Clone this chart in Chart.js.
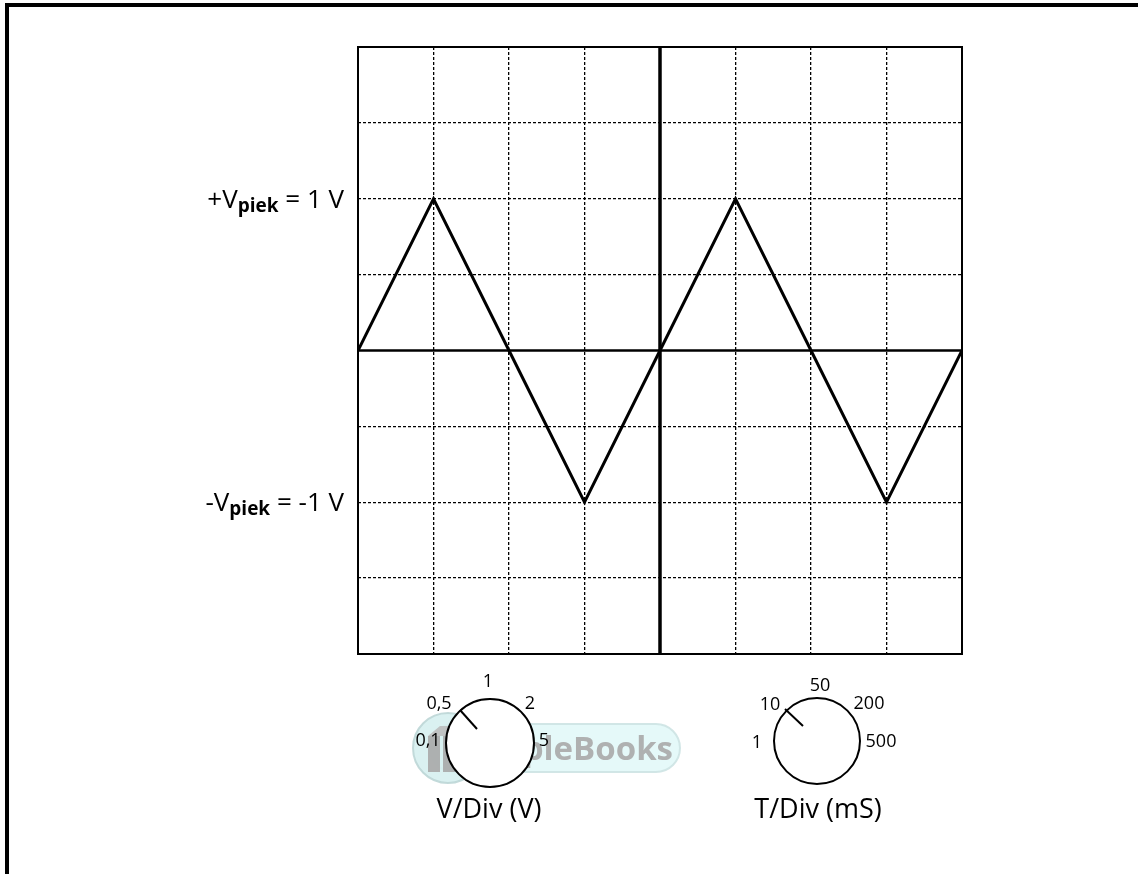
<!DOCTYPE html>
<html>
<head>
<meta charset="utf-8">
<script src="https://cdn.jsdelivr.net/npm/chart.js@4/dist/chart.umd.min.js"></script>
<style>
html,body{margin:0;padding:0;background:#fff;}
#wrap{position:relative;width:1138px;height:874px;}
</style>
</head>
<body>
<div id="wrap"><canvas id="c" width="1138" height="874"></canvas></div>
<script>
// ---- data ----
const timeDivs = [0, 1, 2, 3, 4, 5, 6, 7, 8];
const voltageDivs = [0, 2, 0, -2, 0, 2, 0, -2, 0];
const xAxisLine = [[0, 0], [8, 0]];
const yAxisLine = [[4, -4], [4, 4]];
const peakLabels = [
  {value: 2, pre: '+V', sub: 'piek', post: ' = 1 V'},
  {value: -2, pre: '-V', sub: 'piek', post: ' = -1 V'}
];
const voltKnobLabels = ['1', '0,5', '2', '0,1', '5'];
const voltKnobTitle = 'V/Div (V)';
const timeKnobLabels = ['50', '10', '200', '1', '500'];
const timeKnobTitle = 'T/Div (mS)';
const watermarkText = 'mpleBooks';

const FONT = '"Open Sans", "Noto Sans", sans-serif';

const transparentEdges = (edges) => (ctx) =>
  (ctx.tick && edges.includes(ctx.tick.value)) ? 'rgba(0,0,0,0)' : '#000';

const decor = {
  id: 'decor',
  beforeDraw(chart) {
    const ctx = chart.ctx;
    ctx.save();
    ctx.fillStyle = '#fff';
    ctx.fillRect(0, 0, chart.width, chart.height);
    ctx.restore();
  },
  afterDraw(chart) {
    const ctx = chart.ctx;
    const a = chart.chartArea;
    const ys = chart.scales.y;
    ctx.save();
    // page frame
    ctx.fillStyle = '#000';
    ctx.fillRect(5, 3, chart.width - 5, 4);
    ctx.fillRect(5, 3, 4, chart.height - 3);

    // plot frame
    ctx.strokeStyle = '#000';
    ctx.lineWidth = 2;
    ctx.strokeRect(a.left, a.top, a.right - a.left, a.bottom - a.top);

    // peak labels
    const MAIN = '26px ' + FONT, SUB = 'bold 19px ' + FONT;
    peakLabels.forEach(l => {
      const y = ys.getPixelForValue(l.value);
      ctx.font = MAIN;
      const w1 = ctx.measureText(l.pre).width;
      const w3 = ctx.measureText(l.post).width;
      ctx.font = SUB;
      const w2 = ctx.measureText(l.sub).width;
      const right = a.left - 14;
      let x = right - (w1 + w2 + w3);
      ctx.fillStyle = '#000';
      ctx.textBaseline = 'alphabetic';
      ctx.textAlign = 'left';
      ctx.font = MAIN;
      ctx.fillText(l.pre, x, y + 9);
      ctx.font = SUB;
      ctx.fillText(l.sub, x + w1, y + 13);
      ctx.font = MAIN;
      ctx.fillText(l.post, x + w1 + w2, y + 9);
    });

    // watermark
    ctx.save();
    ctx.globalAlpha = 0.9;
    ctx.fillStyle = '#e2f8f8';
    ctx.strokeStyle = '#cde3e3';
    ctx.lineWidth = 2;
    ctx.beginPath();
    if (ctx.roundRect) ctx.roundRect(430, 724, 250, 48, 24); else ctx.rect(430, 724, 250, 48);
    ctx.fill(); ctx.stroke();
    ctx.beginPath();
    ctx.arc(448, 748, 35, 0, Math.PI * 2);
    ctx.fillStyle = '#d6f0f0';
    ctx.fill();
    ctx.strokeStyle = '#bcd6d6';
    ctx.stroke();
    // book icon
    ctx.fillStyle = '#a9a9a9';
    ctx.fillRect(428, 736, 12, 36);
    ctx.fillRect(443, 736, 12, 36);
    ctx.fillStyle = '#bdbdbd';
    ctx.beginPath();
    ctx.moveTo(428, 736); ctx.lineTo(440, 726); ctx.lineTo(466, 726); ctx.lineTo(455, 736); ctx.closePath();
    ctx.fill();
    ctx.font = 'bold 33px ' + FONT;
    ctx.fillStyle = '#a8a8a8';
    ctx.textAlign = 'right';
    ctx.textBaseline = 'alphabetic';
    ctx.fillText(watermarkText, 673, 760);
    ctx.restore();

    // knobs
    const drawKnob = (cx, cy, r, p1, p2, labels, pos, title, tpos) => {
      ctx.beginPath();
      ctx.arc(cx, cy, r, 0, Math.PI * 2);
      ctx.fillStyle = '#fff';
      ctx.fill();
      ctx.lineWidth = 2;
      ctx.strokeStyle = '#000';
      ctx.stroke();
      ctx.beginPath();
      ctx.moveTo(p1[0], p1[1]);
      ctx.lineTo(p2[0], p2[1]);
      ctx.stroke();
      ctx.fillStyle = '#000';
      ctx.textAlign = 'center';
      ctx.textBaseline = 'middle';
      ctx.font = '18px ' + FONT;
      labels.forEach((t, i) => ctx.fillText(t, pos[i][0], pos[i][1]));
      ctx.font = '27px ' + FONT;
      ctx.fillText(title, tpos[0], tpos[1]);
    };
    drawKnob(490, 743, 44, [460, 710], [477, 729], voltKnobLabels,
      [[488, 682], [439, 704], [530, 704], [428, 741], [544, 741]], voltKnobTitle, [489, 810]);
    drawKnob(817, 741, 43, [785, 709], [803, 726], timeKnobLabels,
      [[820, 686], [770, 705], [869, 704], [757, 743], [881, 742]], timeKnobTitle, [818, 810]);
    ctx.restore();
  }
};

new Chart(document.getElementById('c'), {
  type: 'scatter',
  data: {
    datasets: [
      {data: xAxisLine.map(p => ({x: p[0], y: p[1]})), showLine: true, borderColor: '#000', borderWidth: 2.5, pointRadius: 0},
      {data: yAxisLine.map(p => ({x: p[0], y: p[1]})), showLine: true, borderColor: '#000', borderWidth: 3.5, pointRadius: 0},
      {data: timeDivs.map((t, i) => ({x: t, y: voltageDivs[i]})), showLine: true, borderColor: '#000', borderWidth: 3, pointRadius: 0, tension: 0}
    ]
  },
  options: {
    responsive: false,
    animation: false,
    devicePixelRatio: 1,
    layout: {padding: {left: 358, top: 47, right: 176, bottom: 220}},
    plugins: {legend: {display: false}, tooltip: {enabled: false}},
    scales: {
      x: {
        type: 'linear', min: 0, max: 8,
        ticks: {display: false, stepSize: 1},
        grid: {color: transparentEdges([0, 4, 8]), lineWidth: 1.3, drawTicks: false},
        border: {display: false, dash: [3, 2]}
      },
      y: {
        type: 'linear', min: -4, max: 4,
        ticks: {display: false, stepSize: 1},
        grid: {color: transparentEdges([-4, 0, 4]), lineWidth: 1.3, drawTicks: false},
        border: {display: false, dash: [3, 2]}
      }
    }
  },
  plugins: [decor]
});
</script>
</body>
</html>
